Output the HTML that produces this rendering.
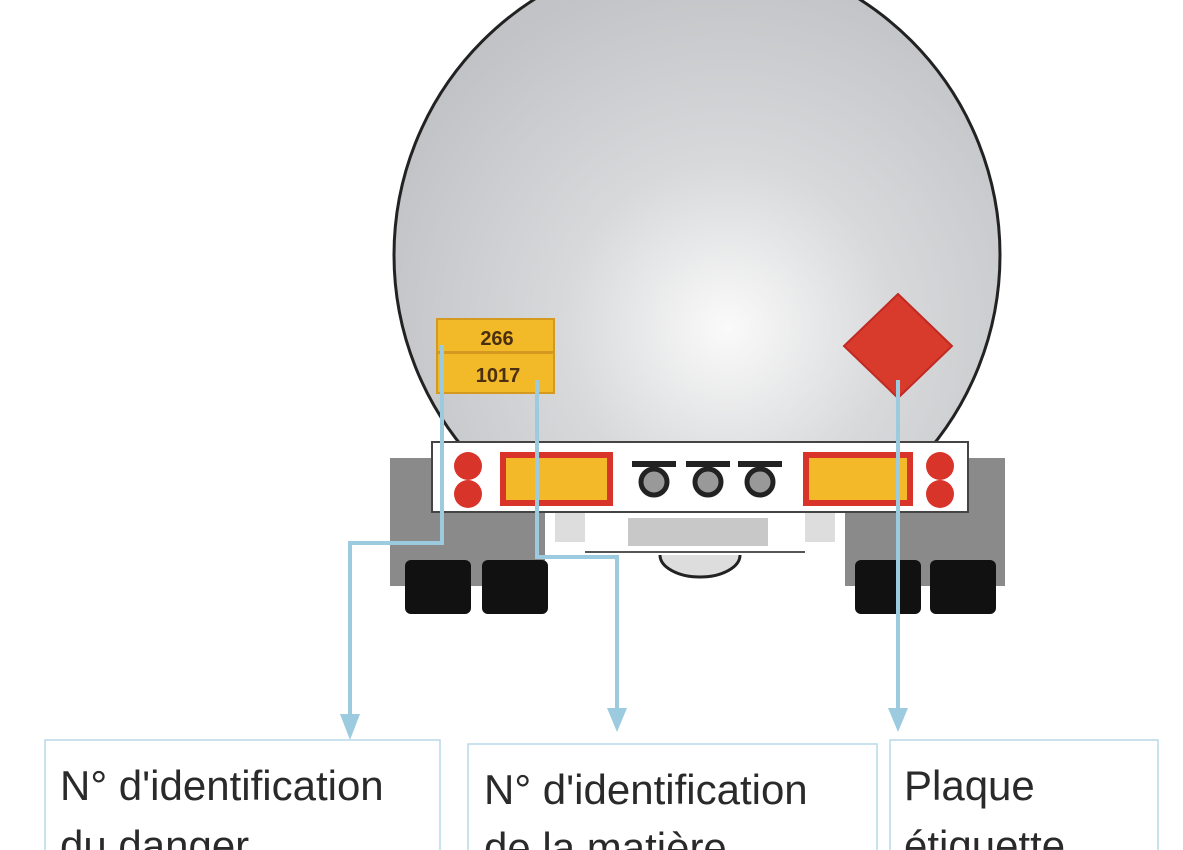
<!DOCTYPE html>
<html><head><meta charset="utf-8"><style>
html,body{margin:0;padding:0;background:#fff;}
svg{display:block;}
</style></head><body>
<svg width="1183" height="850" viewBox="0 0 1183 850" xmlns="http://www.w3.org/2000/svg">
<defs>
<radialGradient id="tk" cx="0.55" cy="0.62" r="0.6">
<stop offset="0" stop-color="#fafafa"/><stop offset="0.45" stop-color="#d8d9db"/><stop offset="1" stop-color="#c2c3c6"/>
</radialGradient>
</defs>
<rect width="1183" height="850" fill="#fff"/>
<!-- tank -->
<circle cx="697" cy="255" r="303" fill="url(#tk)" stroke="#222" stroke-width="3"/>
<!-- cover below bumper -->
<rect x="380" y="505" width="640" height="70" fill="#fff"/>
<!-- under ring -->
<path d="M660 555 A40 22 0 0 0 740 555" fill="#ddd" stroke="#222" stroke-width="3"/>
<!-- mudflaps -->
<rect x="390" y="458" width="155" height="128" fill="#8a8a8a"/>
<rect x="845" y="458" width="160" height="128" fill="#8a8a8a"/>
<!-- tires -->
<rect x="405" y="560" width="66" height="54" rx="6" fill="#111"/>
<rect x="482" y="560" width="66" height="54" rx="6" fill="#111"/>
<rect x="855" y="560" width="66" height="54" rx="6" fill="#111"/>
<rect x="930" y="560" width="66" height="54" rx="6" fill="#111"/>
<!-- lower white plate area -->
<rect x="545" y="505" width="300" height="50" fill="#fff"/>
<rect x="555" y="512" width="30" height="30" fill="#ddd"/>
<rect x="805" y="512" width="30" height="30" fill="#ddd"/>
<rect x="628" y="518" width="140" height="28" fill="#c8c8c8"/>
<line x1="585" y1="552" x2="805" y2="552" stroke="#555" stroke-width="2"/>
<!-- bumper -->
<rect x="432" y="442" width="536" height="70" fill="#fff" stroke="#444" stroke-width="2"/>
<circle cx="468" cy="466" r="14" fill="#d8342a"/>
<circle cx="468" cy="494" r="14" fill="#d8342a"/>
<circle cx="940" cy="466" r="14" fill="#d8342a"/>
<circle cx="940" cy="494" r="14" fill="#d8342a"/>
<rect x="503" y="455" width="107" height="48" fill="#f4b929" stroke="#d8342a" stroke-width="6"/>
<rect x="806" y="455" width="104" height="48" fill="#f4b929" stroke="#d8342a" stroke-width="6"/>
<g fill="#999" stroke="#222" stroke-width="5">
<circle cx="654" cy="482" r="13"/><circle cx="708" cy="482" r="13"/><circle cx="760" cy="482" r="13"/>
</g>
<g fill="#222"><rect x="632" y="461" width="44" height="6"/><rect x="686" y="461" width="44" height="6"/><rect x="738" y="461" width="44" height="6"/></g>
<!-- orange plates -->
<rect x="437" y="319" width="117" height="33" fill="#f2b928" stroke="#d49a20" stroke-width="2"/>
<rect x="437" y="353" width="117" height="40" fill="#f2b928" stroke="#d49a20" stroke-width="2"/>
<text x="497" y="345" font-family="Liberation Sans, sans-serif" font-weight="bold" font-size="20" fill="#4a3010" text-anchor="middle">266</text>
<text x="498" y="382" font-family="Liberation Sans, sans-serif" font-weight="bold" font-size="20" fill="#4a3010" text-anchor="middle">1017</text>
<!-- diamond -->
<polygon points="898,294 952,346 898,398 844,346" fill="#d83a2c" stroke="#c02a22" stroke-width="2"/>
<!-- connectors -->
<g stroke="#9ccbe0" stroke-width="4" fill="none">
<polyline points="442,345 442,543 350,543 350,718"/>
<polyline points="537,380 537,557 617,557 617,712"/>
<polyline points="898,380 898,712"/>
</g>
<g fill="#9ccbe0">
<polygon points="340,714 360,714 350,740"/>
<polygon points="607,708 627,708 617,732"/>
<polygon points="888,708 908,708 898,732"/>
</g>
<!-- boxes -->
<g fill="#fff" stroke="#b8d8e8" stroke-width="1.5">
<rect x="45" y="740" width="395" height="120"/>
<rect x="468" y="744" width="409" height="116"/>
<rect x="890" y="740" width="268" height="120"/>
</g>
<g font-family="Liberation Sans, sans-serif" font-size="42" fill="#2a2a2a">
<text x="60" y="800">N° d'identification</text>
<text x="60" y="860">du danger</text>
<text x="484" y="804">N° d'identification</text>
<text x="484" y="862">de la matière</text>
<text x="904" y="800">Plaque</text>
<text x="904" y="860">étiquette</text>
</g>
</svg>
</body></html>
